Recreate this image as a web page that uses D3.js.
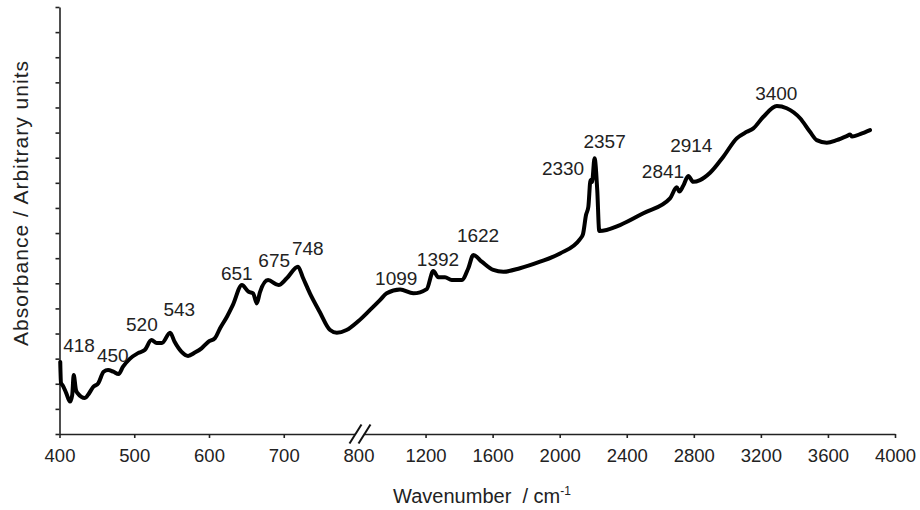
<!DOCTYPE html>
<html>
<head>
<meta charset="utf-8">
<script src="https://cdn.jsdelivr.net/npm/d3@7"></script>
<style>
  body { margin: 0; background: #fff; }
  svg { font-family: "Liberation Sans", Arial, sans-serif; }
</style>
</head>
<body>
<svg width="920" height="510"></svg>
<script>
// spectrum (x in axis units, y in arbitrary units)
var wavenumbers = [401, 402, 404, 409, 414, 417, 419, 422, 424, 434, 438, 445, 452, 459, 465, 472, 479, 485, 494, 505,
  514, 523, 530, 537, 548, 554, 563, 572, 581, 590, 599, 608, 615, 624, 632, 644, 653, 659, 664, 668,
  679, 693, 704, 719, 726, 735, 748, 762, 771, 784, 800, 869, 928, 968, 1048, 1127, 1207, 1246, 1276, 1316,
  1356, 1416, 1455, 1485, 1535, 1604, 1664, 1763, 1883, 2002, 2120, 2139, 2157, 2171, 2184, 2193, 2208, 2224, 2236, 2360,
  2499, 2658, 2698, 2714, 2736, 2767, 2797, 2837, 2897, 2976, 3056, 3116, 3155, 3215, 3295, 3354, 3434, 3493, 3533, 3593,
  3652, 3712, 3732, 3744, 3792, 3851];
var absorbance = [2.87, 2.03, 1.95, 1.63, 1.29, 1.55, 2.35, 1.75, 1.63, 1.43, 1.55, 1.87, 2.03, 2.48, 2.55, 2.48, 2.39, 2.68, 2.99, 3.22,
  3.34, 3.74, 3.62, 3.62, 4.03, 3.67, 3.28, 3.11, 3.24, 3.41, 3.67, 3.82, 4.22, 4.67, 5.14, 5.93, 5.66, 5.60, 5.20, 5.63,
  6.13, 5.93, 6.20, 6.66, 6.20, 5.60, 4.87, 4.14, 4.03, 4.14, 4.50, 4.94, 5.33, 5.60, 5.75, 5.60, 5.77, 6.49, 6.24, 6.24,
  6.13, 6.13, 6.60, 7.13, 6.86, 6.53, 6.46, 6.60, 6.86, 7.19, 7.75, 7.96, 8.72, 9.05, 10.11, 10.03, 10.98, 9.71, 8.08, 8.32,
  8.79, 9.38, 9.82, 9.65, 9.87, 10.27, 10.04, 10.11, 10.40, 11.04, 11.77, 12.03, 12.17, 12.63, 13.06, 12.97, 12.57, 12.03, 11.70, 11.60,
  11.70, 11.86, 11.92, 11.84, 11.94, 12.10];

var xTicks = [400, 500, 600, 700, 800, 1200, 1600, 2000, 2400, 2800, 3200, 3600, 4000];

// peak annotations: text, and where its left baseline sits in chart units
var peakText = ["418", "450", "520", "543", "651", "675", "748", "1099", "1392", "1622", "2330", "2357", "2841", "2914", "3400"];
var peakWn = [405, 450, 489, 539, 616, 666, 711, 899, 1148, 1387, 1894, 2142, 2490, 2659, 3166];
var peakAbs = [3.26, 2.87, 4.10, 4.70, 6.13, 6.65, 7.13, 5.93, 6.67, 7.66, 10.31, 11.39, 10.19, 11.21, 13.28];

var svg = d3.select("svg"),
    width = +svg.attr("width"),
    height = +svg.attr("height");

// broken axis: 400-800 stretched, 800-4000 compressed
var x = d3.scaleLinear()
    .domain([400, 800, 4000])
    .range([59.5, 358.5, 895]);

var y = d3.scaleLinear()
    .domain([0, 17])
    .range([434, 7]);

var spectrum = wavenumbers.map(function(w, i) { return {wn: w, a: absorbance[i]}; });

var xAxis = svg.append("g")
    .attr("transform", "translate(0," + y(0) + ")")
    .call(d3.axisBottom(x)
        .tickValues(xTicks)
        .tickFormat(d3.format("d"))
        .tickSize(4)
        .tickSizeOuter(0)
        .tickPadding(11));

var yAxis = svg.append("g")
    .attr("transform", "translate(" + x(400) + ",0)")
    .call(d3.axisLeft(y)
        .tickValues(d3.range(0, 18))
        .tickFormat("")
        .tickSize(4)
        .tickSizeOuter(0));

svg.selectAll(".domain, .tick line")
    .attr("stroke", "#222")
    .attr("stroke-width", 1.6);

xAxis.selectAll("text")
    .attr("fill", "#222")
    .style("font-size", "18.5px");

// axis break marks
var bx = x(800), by = y(0);
svg.append("path")
    .attr("d", "M" + (bx - 9) + "," + (by + 9.5) + "L" + (bx + 3) + "," + (by - 9.5) +
               "L" + (bx + 12) + "," + (by - 9.5) + "L" + (bx) + "," + (by + 9.5) + "Z")
    .attr("fill", "#fff");
svg.append("g")
    .selectAll("line")
    .data([-3, 6])
    .enter().append("line")
      .attr("x1", function(d) { return bx + d - 6; })
      .attr("y1", by + 9.5)
      .attr("x2", function(d) { return bx + d + 6; })
      .attr("y2", by - 9.5)
      .attr("stroke", "#111")
      .attr("stroke-width", 2);

var line = d3.line()
    .curve(d3.curveMonotoneX)
    .x(function(d) { return x(d.wn); })
    .y(function(d) { return y(d.a); });

svg.append("path")
    .datum(spectrum)
    .attr("fill", "none")
    .attr("stroke", "#000")
    .attr("stroke-width", 4)
    .attr("stroke-linejoin", "round")
    .attr("stroke-linecap", "round")
    .attr("d", line);

svg.append("g")
    .selectAll("text")
    .data(peakText)
    .enter().append("text")
      .attr("x", function(d, i) { return x(peakWn[i]); })
      .attr("y", function(d, i) { return y(peakAbs[i]); })
      .attr("fill", "#222")
      .style("font-size", "19px")
      .text(function(d) { return d; });

// axis titles
var xTitle = svg.append("text")
    .attr("x", 482)
    .attr("y", 503)
    .attr("text-anchor", "middle")
    .attr("fill", "#222")
    .style("font-size", "20px")
    .style("white-space", "pre");
xTitle.append("tspan").text("Wavenumber  / cm");
xTitle.append("tspan")
    .attr("dy", -8)
    .style("font-size", "12px")
    .text("-1");

svg.append("text")
    .attr("transform", "translate(28,203) rotate(-90)")
    .attr("text-anchor", "middle")
    .attr("fill", "#222")
    .style("font-size", "21px")
    .style("letter-spacing", "1px")
    .text("Absorbance / Arbitrary units");
</script>
</body>
</html>
